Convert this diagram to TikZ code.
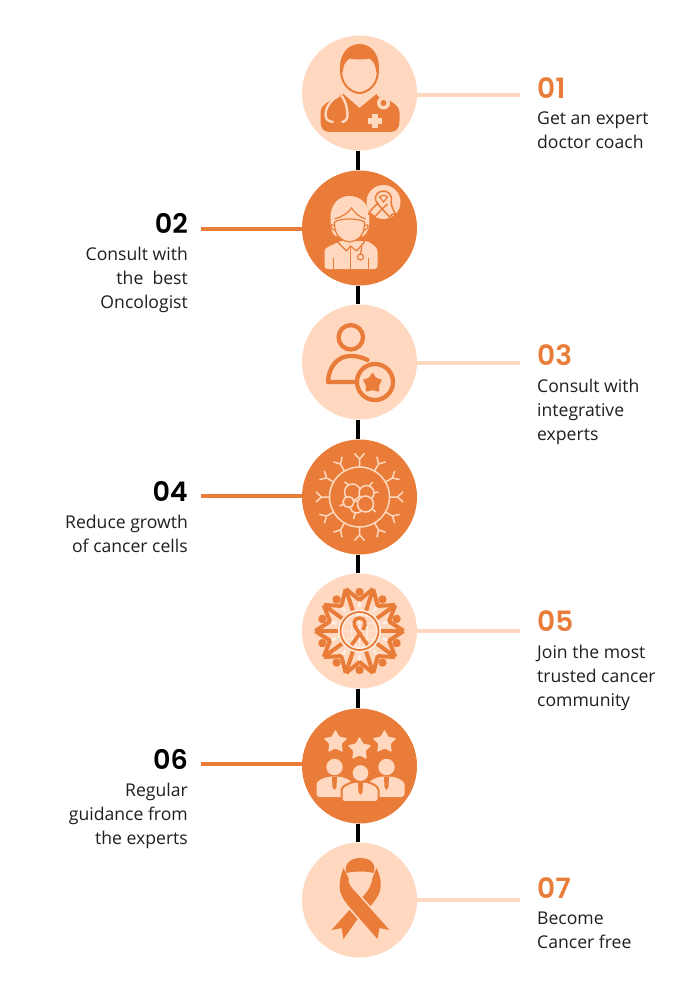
\documentclass[tikz,border=0pt]{standalone}
\usepackage{fontspec}
\setmainfont{Open Sans}
\newfontfamily\numfont{Poppins SemiBold}
\definecolor{org}{HTML}{E97C38}
\definecolor{pch}{HTML}{FFD8BF}
\definecolor{ink}{HTML}{1F1F1F}
\tikzset{
  lightdisc/.style={circle,fill=pch,minimum size=115pt,inner sep=0pt},
  darkdisc/.style={circle,fill=org,minimum size=115pt,inner sep=0pt},
  spine/.style={line width=3.6pt,black},
  lightlink/.style={line width=3.2pt,pch},
  darklink/.style={line width=3.2pt,org},
  numr/.style={anchor=base west,inner sep=0pt,font=\numfont\fontsize{28}{28}\selectfont,text=org},
  numl/.style={anchor=base east,inner sep=0pt,font=\numfont\fontsize{27}{27}\selectfont,text=black},
  txtr/.style={anchor=north west,inner sep=0pt,align=left,font=\fontsize{17.6}{24}\selectfont,text=ink},
  txtl/.style={anchor=north east,inner sep=0pt,align=right,font=\fontsize{17.6}{24}\selectfont,text=ink},
}
\begin{document}
\begin{tikzpicture}[x=1pt,y=-1pt]
\useasboundingbox[fill=white] (0,0) rectangle (700,987);
\node[lightdisc] (c1) at (359.5,93) {};
\node[darkdisc] (c2) at (359.5,228) {};
\node[lightdisc] (c3) at (359.5,362) {};
\node[darkdisc] (c4) at (359.5,497) {};
\node[lightdisc] (c5) at (359.5,631) {};
\node[darkdisc] (c6) at (359.5,766) {};
\node[lightdisc] (c7) at (359.5,900) {};
\foreach \a/\b in {c1/c2,c2/c3,c3/c4,c4/c5,c5/c6,c6/c7}
  \draw[spine] ([xshift=-1.8pt]\a.south) -- ([xshift=-1.8pt]\b.north);
\coordinate (e1) at (520,95);
\coordinate (e2) at (201,229);
\coordinate (e3) at (520,363);
\coordinate (e4) at (201,496);
\coordinate (e5) at (520,631);
\coordinate (e6) at (201,764);
\coordinate (e7) at (520,900);
\draw[lightlink] (c1.east |- e1) -- (e1);
\draw[darklink] (c2.west |- e2) -- (e2);
\draw[lightlink] (c3.east |- e3) -- (e3);
\draw[darklink] (c4.west |- e4) -- (e4);
\draw[lightlink] (c5.east |- e5) -- (e5);
\draw[darklink] (c6.west |- e6) -- (e6);
\draw[lightlink] (c7.east |- e7) -- (e7);
% texts
\node[numr] (n1) at (537,98.5) {01};
\node[txtr] (t1) at (537,112) {Get an expert\\doctor coach};
\node[numl] (n2) at (188,233.5) {02};
\node[txtl] (t2) at (188,247) {Consult with\\the\ \ best\\Oncologist};
\node[numr] (n3) at (537,365.5) {03};
\node[txtr] (t3) at (537,379) {Consult with\\integrative\\experts};
\node[numl] (n4) at (188,501.5) {04};
\node[txtl] (t4) at (188,515) {Reduce growth\\of cancer cells};
\node[numr] (n5) at (537,631.5) {05};
\node[txtr] (t5) at (537,645) {Join the most\\trusted cancer\\community};
\node[numl] (n6) at (188,769.5) {06};
\node[txtl] (t6) at (188,783) {Regular\\guidance from\\the experts};
\node[numr] (n7) at (537,898.5) {07};
\node[txtr] (t7) at (537,912) {Become\\Cancer free};
% icon 1: doctor
\begin{scope}[shift={(c1.center)}]
\fill[org] (-30,39) .. controls (-36,39) and (-39,35) .. (-39,28) -- (-39,20) .. controls (-39,11) and (-30,8) .. (-16,1) -- (0,15) -- (17,1) .. controls (30,8) and (40,11) .. (40,20) -- (40,28) .. controls (40,35) and (37,39) .. (31,39) -- cycle;
\draw[org,line width=2pt,fill=pch] (0,-38) .. controls (-13,-38) and (-19,-28) .. (-18,-18) .. controls (-17,-8) and (-8,0) .. (0,0) .. controls (8,0) and (17,-8) .. (18,-18) .. controls (19,-28) and (13,-38) .. (0,-38) -- cycle;
\fill[org] (-19,-18) .. controls (-22,-38) and (-12,-49) .. (0,-49) .. controls (12,-49) and (22,-38) .. (19,-18) -- (16.5,-22) .. controls (16,-28) and (15,-32) .. (12,-35) .. controls (4,-33) and (-4,-33) .. (-12,-35) .. controls (-15,-32) and (-16,-28) .. (-16.5,-22) -- cycle;
\draw[pch,line width=2.4pt,line join=round] (-20,2.5) .. controls (-28,6) and (-34,14) .. (-34,22) .. controls (-34,26) and (-31,29) .. (-26,29);
\draw[pch,line width=2.4pt,line join=round] (-18,2.5) .. controls (-14,8) and (-12,15) .. (-12,22) .. controls (-12,26) and (-14,29) .. (-18,29);
\draw[pch,line width=2pt] (18,1) -- (22,5);
\fill[pch] (24,10) circle (6.5);
\fill[org] (24,10) circle (3);
\fill[pch] (12.5,21.5) rectangle (18.5,35.5);
\fill[pch] (8.5,25.5) rectangle (22.5,31.5);
\end{scope}
% icon 2: nurse with mask and ribbon
\begin{scope}[shift={(c2.center)}]
\fill[pch,rounded corners=3pt] (-35,41) -- (-35,26) .. controls (-35,19) and (-26,17) .. (-20,13) -- (8,13) .. controls (14,17) and (18,20) .. (18,26) -- (18,41) -- cycle;
\fill[pch] (-29,-10) .. controls (-29,-25) and (-20,-32) .. (-10,-32) .. controls (0,-32) and (10,-25) .. (10,-10) .. controls (10,0) and (8,5) .. (4,8) -- (-24,8) .. controls (-28,5) and (-29,0) .. (-29,-10) -- cycle;
\draw[org,line width=1.2pt] (-25,-9) .. controls (-18,-11) and (-11,-15) .. (-8,-20) .. controls (-5,-15) and (0,-11) .. (6,-9);
\draw[org,line width=1.2pt,fill=pch,line join=round] (-25,-6) .. controls (-18,-10) and (-2,-10) .. (5,-6) .. controls (5,3) and (3,12) .. (-10,14) .. controls (-23,12) and (-25,3) .. (-25,-6) -- cycle;
\draw[org,line width=1.1pt] (-25,-2) .. controls (-30,-6) and (-30,1) .. (-24,3) (5,-2) .. controls (10,-6) and (10,1) .. (4,3);
\draw[org,line width=1.2pt,line join=round] (-18,10) -- (-22,14) -- (-13,23) -- (-9,18) -- (-3,23) -- (5,14) -- (1,10);
\draw[org,line width=1.2pt] (-9,18) -- (-9,41) (-26,30) -- (-26,41) (9,30) -- (9,41);
\draw[org,line width=1.2pt] (2,18) .. controls (3,20) and (1,23) .. (1,26);
\draw[org,line width=1.2pt,fill=pch] (1,29) circle (3);
\fill[pch] (24,-26) circle (17);
\draw[org,line width=1.5pt,line join=round] (24,-37) .. controls (19,-37) and (15,-33) .. (16,-28) .. controls (17,-24) and (24,-18) .. (30,-11) -- (33,-14) -- (36,-14) .. controls (32,-21) and (31,-25) .. (32,-29) .. controls (32,-33) and (29,-37) .. (24,-37) -- cycle;
\draw[org,line width=1.5pt,line join=round] (28,-24) .. controls (23,-20) and (19,-15) .. (15,-11) -- (12,-14) -- (9,-14) .. controls (12,-19) and (16,-23) .. (19,-25);
\draw[org,line width=1.2pt] (20,-31) .. controls (22,-33) and (26,-33) .. (28,-31) -- (24,-26) -- cycle;
\end{scope}
% icon 3
\begin{scope}[shift={(c3.center)}]
\draw[org,line width=4.3pt] (-8.7,-24.7) circle (12.2);
\draw[org,line width=4.3pt,line join=round,line cap=round] (8,-2) .. controls (2,-5) and (-3,-6) .. (-9,-6) .. controls (-22,-6) and (-31,5) .. (-31.5,20) -- (-5,20);
\draw[org,line width=4.3pt,fill=pch] (15.5,20) circle (18);
\fill[org,rounded corners=1.5pt] (13,10) -- (16.5,16) -- (23,17.5) -- (19.5,23) -- (20,30) -- (13,28) -- (6,30) -- (6.5,23) -- (3,17.5) -- (9.5,16) -- cycle;
\end{scope}
% icon 4: cell
\begin{scope}[shift={(c4.center)}]
\draw[pch,line width=1.5pt] (0,0) circle (30);
\foreach \a in {0,30,...,330}{
  \begin{scope}[rotate=\a]
    \draw[pch,line width=1.5pt] (0,-30) -- (0,-38) (0,-38) -- (-5,-43.5) (0,-38) -- (5,-43.5);
  \end{scope}
}
\draw[pch,line width=1.5pt] (-15,-15) -- (-9,-11) (13,-15) -- (9,-10) (19,-5) -- (13,-4) (-20,9) -- (-15,7) (-6,22) -- (-4,15) (16,15) -- (12,11);
\tikzset{blob/.style={draw=pch,fill=org,line width=1.5pt}}
\draw[blob] (-7,-5) circle (8);
\draw[blob] (7,-4) circle (7.5);
\draw[blob] (-3,10) circle (6);
\draw[blob] (6,7) circle (8);
\draw[blob] (-11,5) circle (5.5);
\end{scope}
% icon 5: community
\begin{scope}[shift={(c5.center)}]
\foreach \a in {0,36,...,324}{
  \begin{scope}[rotate=\a]
    \draw[org,line width=4pt,rotate=18] (0,-20) -- (0,-42);
    \draw[org,line width=4pt,line join=round] (13.5,-42) -- (0,-31) -- (-13.5,-42);
    \fill[org] (0,-39) circle (4.2);
  \end{scope}
}
\foreach \a in {0,36,...,324}{
  \begin{scope}[rotate=\a]
    \draw[pch!30!white,line width=0.8pt] (0,-28) circle (1.4);
    \draw[pch!30!white,line width=0.8pt] (-1.3,-26.8) -- (1.6,-23.8) (1.3,-26.8) -- (-1.6,-23.8);
  \end{scope}
}
\fill[white!60!pch] (0,0) circle (21.5);
\draw[org,line width=1.8pt] (0,0) circle (19);
\fill[pch] (0,0) circle (16.5);
\draw[white!60!pch,line width=0.9pt] (-16,0) -- (16,0) (0,0) ellipse (8 and 16.5) (0,-16.5) -- (0,16.5) (-14,-8) -- (14,-8) (-14,8) -- (14,8);
\draw[org,line width=3.6pt,line join=round] (3.5,-1) .. controls (7,-7) and (6,-13) .. (0,-13) .. controls (-6,-13) and (-7,-7) .. (-3,-2) -- (8,14);
\draw[org,line width=3.6pt] (-8,14) -- (1.5,1);
\end{scope}
% icon 6: team
\begin{scope}[shift={(c6.center)}]
\foreach \x/\y in {-24/-24,25/-24,0/-17}{
  \fill[pch,rounded corners=1pt,shift={(\x,\y)}]
   (-90:12.5) -- (-54:6.5) -- (-18:12.5) -- (18:6.5) -- (54:12.5) -- (90:6.5) -- (126:12.5) -- (162:6.5) -- (198:12.5) -- (234:6.5) -- cycle;
}
\foreach \x/\y in {-25/1,27/1}{
  \fill[pch] (\x,\y) circle (8.2);
  \fill[pch,rounded corners=3pt] (\x-18,\y+30) -- (\x-18,\y+20) .. controls (\x-18,\y+14) and (\x-10,\y+9.5) .. (\x,\y+9.5) .. controls (\x+10,\y+9.5) and (\x+18,\y+14) .. (\x+18,\y+20) -- (\x+18,\y+30) -- cycle;
  \fill[org] (\x-2.5,\y+10) -- (\x+2.5,\y+10) -- (\x+2,\y+20) -- (\x,\y+23) -- (\x-2,\y+20) -- cycle;
}
\draw[org,line width=2pt,fill=pch,rounded corners=3pt] (-18,36) -- (-18,27) .. controls (-18,20) and (-8,15.5) .. (1,15.5) .. controls (10,15.5) and (19,20) .. (19,27) -- (19,36) -- cycle;
\draw[org,line width=2pt,fill=pch] (1,7) circle (9);
\fill[org] (-1.5,16) -- (3.5,16) -- (3,26) -- (1,29) -- (-1,26) -- cycle;
\end{scope}
% icon 7: ribbon
\begin{scope}[shift={(c7.center)}]
\fill[org] (-13,-27) .. controls (-16,-35) and (-10,-42) .. (1,-42) .. controls (12,-42) and (17,-35) .. (14,-27) .. controls (8,-29) and (-6,-29) .. (-13,-27) -- cycle;
\fill[org] (-16,-32) -- (-11,-22) .. controls (-12,-16) and (-7,-11) .. (-3,-7) -- (30,30) -- (20,28) -- (18,39) -- (-10,7) .. controls (-15,1) and (-20,-6) .. (-20,-13) .. controls (-20,-20) and (-18,-27) .. (-16,-32) -- cycle;
\fill[org] (17,-32) .. controls (20,-26) and (22,-19) .. (21,-12) .. controls (21,-7) and (16,0) .. (11,6) -- (3,-3) .. controls (8,-8) and (12,-14) .. (13,-22) -- cycle;
\fill[org] (-10,10) -- (-2,19) -- (-16,39) -- (-18,28) -- (-28,30) -- cycle;
\end{scope}
\end{tikzpicture}
\end{document}
